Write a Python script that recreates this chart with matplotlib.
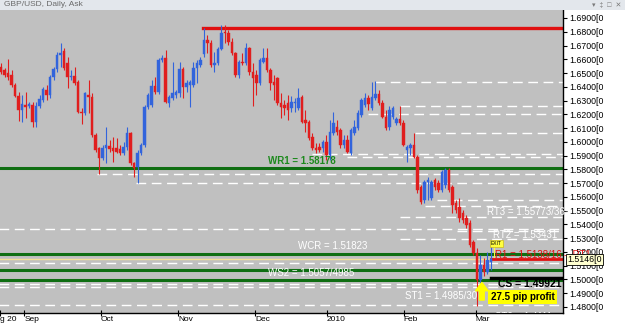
import matplotlib.pyplot as plt
from matplotlib.patches import Rectangle
from matplotlib.transforms import blended_transform_factory

plt.rcParams['font.family'] = ['Liberation Sans', 'DejaVu Sans']

# GBP/USD daily bars, 20 Aug 2009 .. early Mar 2010
opens = [1.6544, 1.6522, 1.6500, 1.6486, 1.6413, 1.6333, 1.6231, 1.6268, 1.6260, 1.6268,
         1.6144, 1.6260, 1.6304, 1.6377, 1.6341, 1.6471, 1.6529, 1.6631, 1.6660, 1.6573,
         1.6471, 1.6479, 1.6435, 1.6217, 1.6210, 1.6341, 1.6326, 1.6050, 1.5955, 1.5883,
         1.5955, 1.5970, 1.5955, 1.5955, 1.5948, 1.5919, 1.5963, 1.6064, 1.5846, 1.5817,
         1.5919, 1.5977, 1.6253, 1.6268, 1.6406, 1.6362, 1.6595, 1.6609, 1.6282, 1.6319,
         1.6341, 1.6355, 1.6529, 1.6399, 1.6413, 1.6413, 1.6537, 1.6559, 1.6638, 1.6740,
         1.6718, 1.6559, 1.6573, 1.6675, 1.6798, 1.6791, 1.6726, 1.6646, 1.6486, 1.6580,
         1.6573, 1.6682, 1.6508, 1.6486, 1.6428, 1.6580, 1.6609, 1.6522, 1.6435, 1.6464,
         1.6282, 1.6268, 1.6282, 1.6246, 1.6282, 1.6246, 1.6326, 1.6159, 1.6144, 1.6035,
         1.5955, 1.5963, 1.5955, 1.5999, 1.5904, 1.6064, 1.6108, 1.6086, 1.5977, 1.6013,
         1.5919, 1.6064, 1.6101, 1.6195, 1.6268, 1.6319, 1.6246, 1.6319, 1.6348, 1.6282,
         1.6181, 1.6108, 1.6181, 1.6137, 1.6166, 1.6137, 1.5941, 1.5955, 1.5977, 1.5890,
         1.5672, 1.5578, 1.5708, 1.5592, 1.5723, 1.5701, 1.5650, 1.5687, 1.5796, 1.5672,
         1.5556, 1.5527, 1.5483, 1.5447, 1.5411, 1.5272, 1.5192, 1.4996, 1.5105, 1.5054,
         1.5127]
highs = [1.6573, 1.6537, 1.6602, 1.6522, 1.6428, 1.6362, 1.6341, 1.6362, 1.6290, 1.6290,
         1.6290, 1.6341, 1.6399, 1.6413, 1.6486, 1.6544, 1.6653, 1.6718, 1.6682, 1.6617,
         1.6522, 1.6544, 1.6450, 1.6246, 1.6362, 1.6450, 1.6355, 1.6064, 1.5963, 1.5977,
         1.6108, 1.6013, 1.6035, 1.6028, 1.5977, 1.5999, 1.6108, 1.6072, 1.5854, 1.5941,
         1.5992, 1.6268, 1.6355, 1.6450, 1.6471, 1.6609, 1.6631, 1.6667, 1.6341, 1.6580,
         1.6377, 1.6580, 1.6544, 1.6450, 1.6450, 1.6580, 1.6595, 1.6617, 1.6827, 1.6777,
         1.6740, 1.6653, 1.6689, 1.6849, 1.6849, 1.6813, 1.6755, 1.6653, 1.6595, 1.6646,
         1.6718, 1.6689, 1.6573, 1.6522, 1.6609, 1.6682, 1.6682, 1.6537, 1.6486, 1.6471,
         1.6355, 1.6304, 1.6341, 1.6333, 1.6319, 1.6391, 1.6341, 1.6231, 1.6159, 1.6064,
         1.5992, 1.5992, 1.6013, 1.6050, 1.6159, 1.6217, 1.6159, 1.6101, 1.6050, 1.6050,
         1.6101, 1.6159, 1.6231, 1.6319, 1.6355, 1.6341, 1.6435, 1.6442, 1.6377, 1.6304,
         1.6231, 1.6260, 1.6260, 1.6181, 1.6260, 1.6159, 1.5977, 1.5992, 1.6064, 1.5904,
         1.5687, 1.5723, 1.5745, 1.5723, 1.5738, 1.5723, 1.5796, 1.5810, 1.5810, 1.5687,
         1.5578, 1.5592, 1.5505, 1.5469, 1.5433, 1.5287, 1.5229, 1.5178, 1.5156, 1.5200,
         1.5287]
lows = [1.6493, 1.6471, 1.6450, 1.6399, 1.6326, 1.6151, 1.6144, 1.6173, 1.6246, 1.6108,
        1.6108, 1.6246, 1.6290, 1.6304, 1.6319, 1.6450, 1.6508, 1.6544, 1.6522, 1.6391,
        1.6450, 1.6413, 1.6210, 1.6130, 1.6195, 1.6210, 1.6035, 1.5926, 1.5767, 1.5868,
        1.5846, 1.5926, 1.5854, 1.5919, 1.5904, 1.5904, 1.5941, 1.5832, 1.5745, 1.5701,
        1.5904, 1.5963, 1.6239, 1.6253, 1.6348, 1.6348, 1.6580, 1.6282, 1.6253, 1.6304,
        1.6319, 1.6326, 1.6319, 1.6362, 1.6253, 1.6399, 1.6428, 1.6544, 1.6617, 1.6646,
        1.6544, 1.6508, 1.6559, 1.6667, 1.6718, 1.6704, 1.6631, 1.6471, 1.6464, 1.6559,
        1.6559, 1.6486, 1.6260, 1.6341, 1.6413, 1.6573, 1.6508, 1.6377, 1.6304, 1.6268,
        1.6173, 1.6195, 1.6159, 1.6217, 1.6217, 1.6231, 1.6137, 1.6072, 1.6013, 1.5941,
        1.5919, 1.5926, 1.5926, 1.5868, 1.5868, 1.6050, 1.6050, 1.5955, 1.5955, 1.5919,
        1.5904, 1.6050, 1.6086, 1.6181, 1.6253, 1.6231, 1.6231, 1.6304, 1.6268, 1.6173,
        1.6086, 1.6086, 1.6166, 1.6122, 1.6122, 1.5970, 1.5854, 1.5904, 1.5883, 1.5629,
        1.5548, 1.5556, 1.5578, 1.5578, 1.5650, 1.5636, 1.5636, 1.5665, 1.5636, 1.5483,
        1.5483, 1.5418, 1.5411, 1.5374, 1.5236, 1.5178, 1.4807, 1.4974, 1.5025, 1.5040,
        1.5069]
closes = [1.6508, 1.6486, 1.6471, 1.6413, 1.6333, 1.6231, 1.6275, 1.6253, 1.6275, 1.6144,
          1.6260, 1.6311, 1.6384, 1.6341, 1.6471, 1.6529, 1.6631, 1.6646, 1.6537, 1.6471,
          1.6479, 1.6428, 1.6217, 1.6210, 1.6355, 1.6326, 1.6050, 1.5941, 1.5883, 1.5955,
          1.5977, 1.5948, 1.5934, 1.5926, 1.5919, 1.5963, 1.6064, 1.5846, 1.5810, 1.5919,
          1.5977, 1.6253, 1.6341, 1.6406, 1.6362, 1.6595, 1.6609, 1.6290, 1.6326, 1.6355,
          1.6362, 1.6529, 1.6399, 1.6428, 1.6435, 1.6537, 1.6573, 1.6595, 1.6740, 1.6718,
          1.6559, 1.6573, 1.6675, 1.6791, 1.6791, 1.6726, 1.6646, 1.6486, 1.6580, 1.6573,
          1.6682, 1.6508, 1.6464, 1.6428, 1.6595, 1.6609, 1.6522, 1.6428, 1.6413, 1.6282,
          1.6253, 1.6246, 1.6231, 1.6290, 1.6290, 1.6319, 1.6144, 1.6137, 1.6028, 1.5955,
          1.5941, 1.5941, 1.5999, 1.5904, 1.6072, 1.6137, 1.6072, 1.5977, 1.6013, 1.5926,
          1.6086, 1.6108, 1.6210, 1.6304, 1.6319, 1.6275, 1.6326, 1.6348, 1.6282, 1.6181,
          1.6101, 1.6231, 1.6246, 1.6166, 1.6137, 1.5977, 1.5963, 1.5977, 1.5890, 1.5650,
          1.5563, 1.5708, 1.5723, 1.5708, 1.5672, 1.5650, 1.5781, 1.5796, 1.5650, 1.5541,
          1.5505, 1.5447, 1.5433, 1.5396, 1.5251, 1.5192, 1.4996, 1.5105, 1.5054, 1.5142,
          1.5146]

month_labels = ['g 20', 'Sep', 'Oct', 'Nov', 'Dec', '2010', 'Feb', 'Mar']
month_bars = [-0.3, 6.6, 28.6, 50.6, 72.6, 93.1, 115.1, 135.7]
price_ticks = [1.48, 1.49, 1.50, 1.51, 1.52, 1.53, 1.54, 1.55, 1.56, 1.57, 1.58,
               1.59, 1.60, 1.61, 1.62, 1.63, 1.64, 1.65, 1.66, 1.67, 1.68, 1.69]

# horizontal levels: price, first bar
white_levels = [1.6437, 1.6261, 1.6202, 1.6064, 1.5908, 1.5892, 1.5767, 1.5699, 1.5577,
                1.5536, 1.5452, 1.5367, 1.5349, 1.5294, 1.5123, 1.4967, 1.4943, 1.4815]
white_starts = [106.9, 114, 104.9, 118.3, 88.9, 98.9, 27.4, 38.6, 124.6,
                121.1, 114, -1, 130.3, 114, -1, -1, -1, -1]
green_levels = [1.5813, 1.5188, 1.5066, 1.4993]
top_resistance = 1.6827
r1_level = 1.5146
cs_level = 1.5011
exit_level = 1.5151

UP = '#3264dc'
DOWN = '#e01e1e'
BG = '#c0c0c0'
XMAX = 160.6

fig = plt.figure(figsize=(6.25, 3.26), dpi=100, facecolor='white')
ax = fig.add_axes([0, 13 / 326, 563 / 625, 303 / 326])
ax.set_facecolor(BG)
ax.set_xlim(-0.3, XMAX)
ax.set_ylim(1.4756, 1.6958)

# levels
for lv, st in zip(white_levels, white_starts):
    ax.plot([st, XMAX], [lv, lv], color='white', lw=1, ls=(0, (7, 4)), zorder=1)
for lv in green_levels:
    ax.axhline(lv, color='#0f6e12', lw=2.2, zorder=2)
ax.axhline(exit_level, color='#f2e296', lw=1, zorder=2)
ax.plot([57.7, XMAX], [top_resistance, top_resistance], color='#e01010', lw=2.4, zorder=2)
ax.plot([140, XMAX], [r1_level, r1_level], color='#e01010', lw=2, zorder=2)
ax.plot([140, XMAX], [cs_level, cs_level], color='black', lw=2.5, zorder=2)

# candles
for i, (o, h, l, c) in enumerate(zip(opens, highs, lows, closes)):
    col = UP if c >= o else DOWN
    ax.plot([i, i], [l, h], color=col, lw=0.8, zorder=3, solid_capstyle='butt')
    ax.bar(i, max(abs(c - o), 0.0002), bottom=min(o, c), width=0.72,
           color=col, edgecolor=col, lw=0.3, zorder=4)

# annotations
fs = 7
ax.text(76.3, 1.5858, 'WR1 = 1.58178', color='#1d8a1d', fontsize=fs, fontweight='bold', va='center')
ax.text(138.9, 1.5490, 'RT3 = 1.55773/365', color='white', fontsize=fs, va='center', clip_on=False)
ax.text(140.6, 1.5323, 'RT2 = 1.53431', color='white', fontsize=fs, va='center')
ax.text(141.1, 1.5180, 'R1 = 1.5138/16 \u2013 RT1', color='#e01010', fontsize=fs, va='center', clip_on=False)
ax.text(84.9, 1.5243, 'WCR = 1.51823', color='white', fontsize=fs, va='center')
ax.text(76.3, 1.5047, 'WS2 = 1.5057/4985', color='white', fontsize=fs, va='center')
ax.text(115.4, 1.4882, 'ST1 = 1.4985/30', color='white', fontsize=fs, va='center')
ax.text(142.0, 1.4968, 'CS = 1.49921', color='black', fontsize=fs + 0.5, fontweight='bold', va='center')
ax.text(140.0, 1.4872, '27.5 pip profit', color='black', fontsize=fs, fontweight='bold', va='center',
        bbox=dict(boxstyle='square,pad=0.25', facecolor='#ffff00', edgecolor='none'))
ax.text(141.3, 1.4728, 'ST2 = 1.4111', color='white', fontsize=fs, va='center', clip_on=True)
ax.text(140.0, 1.5262, 'EXIT', color='black', fontsize=3.5, va='center',
        bbox=dict(boxstyle='square,pad=0.2', facecolor='#ffff40', edgecolor='#c8b400', lw=0.4))
ax.plot([140.8, 140.8], [1.5162, 1.5240], color='#ffff40', lw=0.7, zorder=2)
ax.annotate('', xy=(137.4, 1.4978), xytext=(137.4, 1.4850),
            arrowprops=dict(facecolor='#ffff00', edgecolor='#ffff00', width=3.5,
                            headwidth=9, headlength=6), zorder=6)

# axes styling
for s in ['top', 'left']:
    ax.spines[s].set_visible(False)
ax.spines['right'].set_color('black')
ax.spines['bottom'].set_color('black')
ax.spines['right'].set_linewidth(1)
ax.spines['bottom'].set_linewidth(1)
ax.yaxis.tick_right()
ax.set_yticks(price_ticks)
ax.set_yticklabels(['%.4f[0' % v for v in price_ticks])
ax.tick_params(axis='y', length=3, width=0.8, labelsize=6.3, pad=1.5, colors='black')
ax.set_xticks(month_bars)
ax.set_xticklabels(month_labels, ha='left')
ax.tick_params(axis='x', direction='inout', length=4, width=0.8, labelsize=6,
               pad=0.5, colors='black')

# current price box on the price scale
tr = blended_transform_factory(ax.transAxes, ax.transData)
ax.text(1.008, 1.5146, '1.5146[0', transform=tr, fontsize=6.3, va='center', clip_on=False,
        bbox=dict(boxstyle='square,pad=0.15', facecolor='#ffffd0', edgecolor='black', lw=0.6))

# window title bar
fig.patches.append(Rectangle((0, 1 - 10 / 326), 1, 10 / 326, transform=fig.transFigure,
                             facecolor='#e3e7ec', edgecolor='none', zorder=0))
fig.text(4 / 625, 1 - 5 / 326, 'GBP/USD, Daily, Ask', fontsize=6, color='#6a6a6a', va='center')
fig.text(0.995, 1 - 5 / 326, '\u25be  \u2021  \u25a1  \u2715', fontsize=5, color='#7a7a7a',
         va='center', ha='right')

fig.savefig('out.png', dpi=100, facecolor='white')
